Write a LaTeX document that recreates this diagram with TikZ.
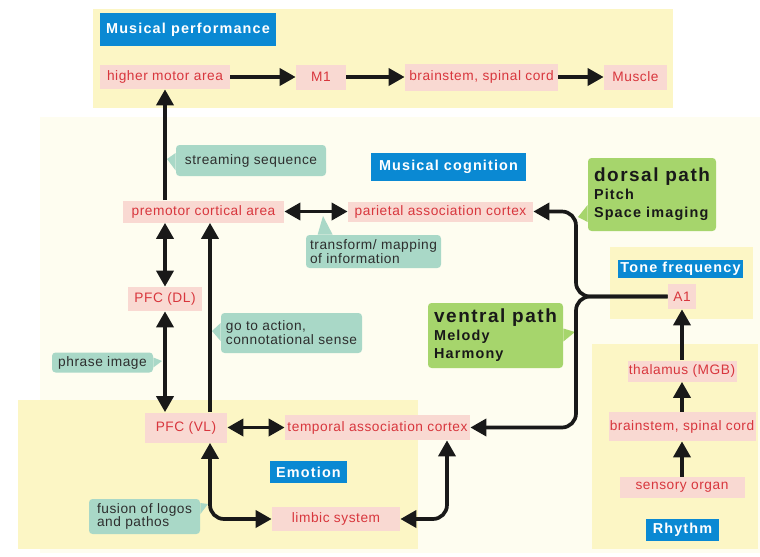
\documentclass[tikz,border=0pt]{standalone}
\usepackage{fontspec}
\setmainfont{Liberation Sans}
\newfontfamily\lblfont[LetterSpace=4]{Liberation Sans}
\newfontfamily\ttlfont[LetterSpace=8]{Liberation Sans}
\usetikzlibrary{arrows.meta}
\definecolor{bgyellow}{HTML}{FCF6C5}
\definecolor{bgpale}{HTML}{FEFDF0}
\definecolor{areapink}{HTML}{F9D9D2}
\definecolor{areared}{HTML}{D8363D}
\definecolor{ttlblue}{HTML}{0A89D3}
\definecolor{notegreen}{HTML}{A9D8C7}
\definecolor{pathgreen}{HTML}{A6D56C}
\definecolor{notetext}{HTML}{2E2E2E}
\tikzset{
  area/.style={fill=areapink, text=areared, inner sep=0pt, font=\lblfont\fontsize{7.8}{9}\selectfont},
  ttl/.style={fill=ttlblue, text=white, inner sep=0pt, font=\ttlfont\bfseries\fontsize{8.2}{9}\selectfont},
  note/.style={fill=notegreen, text=notetext, rounded corners=2pt, inner sep=0pt, align=left,
    font=\lblfont\fontsize{7.8}{7.9}\selectfont},
  pathnote/.style={fill=pathgreen, text=black!90, rounded corners=2pt, inner sep=0pt, align=left,
    font=\ttlfont\bfseries\fontsize{8.2}{10.2}\selectfont},
  arr/.style={draw=black!90, line width=2.1pt, -{Triangle[length=0.32cm, width=0.34cm]}},
  darr/.style={arr, {Triangle[length=0.32cm, width=0.34cm]}-{Triangle[length=0.32cm, width=0.34cm]}}
}
\begin{document}
\begin{tikzpicture}[scale=1.0]
\useasboundingbox (0,0) rectangle (15.2,-11.14);
\fill[bgpale] (0.8,-2.34) rectangle (15.2,-11.06);
\fill[bgyellow] (1.86,-0.18) rectangle (13.46,-2.16);
\fill[bgyellow] (0.36,-8.0) rectangle (8.36,-10.98);
\fill[bgyellow] (12.2,-4.94) rectangle (15.06,-6.38);
\fill[bgyellow] (11.84,-6.88) rectangle (15.16,-10.98);

\node[ttl, minimum width=3.52cm, minimum height=0.66cm] (perf) at (3.76,-0.59) {Musical performance};
\node[ttl, minimum width=3.1cm, minimum height=0.56cm] (cog) at (8.97,-3.34) {Musical cognition};
\node[ttl, minimum width=2.5cm, minimum height=0.36cm] (tone) at (13.61,-5.37) {Tone frequency};
\node[ttl, minimum width=1.54cm, minimum height=0.44cm] (emo) at (6.17,-9.44) {Emotion};
\node[ttl, minimum width=1.46cm, minimum height=0.44cm] (rhythm) at (13.65,-10.6) {Rhythm};

\node[area, minimum width=2.6cm, minimum height=0.48cm] (hma) at (3.3,-1.54) {higher motor area};
\node[area, minimum width=1.0cm, minimum height=0.5cm] (m1) at (6.42,-1.54) {M1};
\node[area, minimum width=3.06cm, minimum height=0.54cm] (bsc1) at (9.63,-1.54) {brainstem, spinal cord};
\node[area, minimum width=1.26cm, minimum height=0.5cm] (muscle) at (12.71,-1.54) {Muscle};
\node[area, minimum width=3.22cm, minimum height=0.44cm] (premotor) at (4.07,-4.23) {premotor cortical area};
\node[area, minimum width=3.7cm, minimum height=0.4cm] (parietal) at (8.81,-4.23) {parietal association cortex};
\node[area, minimum width=1.48cm, minimum height=0.48cm] (pfcdl) at (3.3,-5.98) {PFC (DL)};
\node[area, minimum width=1.64cm, minimum height=0.6cm] (pfcvl) at (3.72,-8.55) {PFC (VL)};
\node[area, minimum width=3.7cm, minimum height=0.5cm] (temporal) at (7.55,-8.55) {temporal association cortex};
\node[area, minimum width=2.56cm, minimum height=0.48cm] (limbic) at (6.72,-10.38) {limbic system};
\node[area, minimum width=0.56cm, minimum height=0.5cm] (a1) at (13.64,-5.93) {A1};
\node[area, minimum width=2.18cm, minimum height=0.42cm] (thal) at (13.64,-7.42) {thalamus (MGB)};
\node[area, minimum width=2.94cm, minimum height=0.58cm] (bsc2) at (13.64,-8.53) {brainstem, spinal cord};
\node[area, minimum width=2.5cm, minimum height=0.42cm] (sensory) at (13.64,-9.75) {sensory organ};

\node[note, minimum width=3.0cm, minimum height=0.62cm] (stream) at (5.02,-3.21) {streaming sequence};
\node[note, minimum width=2.7cm, minimum height=0.66cm] (transform) at (7.47,-5.03) {transform/ mapping\\of information};
\node[note, minimum width=2.82cm, minimum height=0.8cm] (goto) at (5.83,-6.66) {go to action,\\connotational sense};
\node[note, minimum width=2.02cm, minimum height=0.4cm] (phrase) at (2.05,-7.25) {phrase image};
\node[note, minimum width=2.22cm, minimum height=0.7cm] (fusion) at (2.89,-10.33) {fusion of logos\\and pathos};
\node[pathnote, minimum width=2.56cm, minimum height=1.46cm] (dorsal) at (13.04,-3.89)
  {{\fontsize{10.8}{12}\selectfont dorsal path}\\Pitch\\Space imaging};
\node[pathnote, minimum width=2.7cm, minimum height=1.3cm] (ventral) at (9.91,-6.71)
  {{\fontsize{10.8}{12}\selectfont ventral path}\\Melody\\Harmony};

\fill[notegreen] ([yshift=0.15cm]stream.west) -- (3.34,-3.18) -- ([yshift=-0.2cm]stream.west) -- cycle;
\fill[notegreen] ([xshift=0.24cm]transform.north west) -- (6.46,-4.32) -- ([xshift=0.54cm]transform.north west) -- cycle;
\fill[notegreen] ([yshift=0.2cm]goto.west) -- (4.24,-6.62) -- ([yshift=-0.16cm]goto.west) -- cycle;
\fill[notegreen] ([yshift=0.1cm]phrase.east) -- (3.24,-7.22) -- ([yshift=-0.1cm]phrase.east) -- cycle;
\fill[notegreen] ([yshift=0.27cm]fusion.east) -- (4.16,-10.08) -- ([yshift=0.05cm]fusion.east) -- cycle;
\fill[pathgreen] ([yshift=-0.21cm]dorsal.west) -- (11.56,-4.34) -- ([yshift=-0.55cm]dorsal.west) -- cycle;
\fill[pathgreen] ([yshift=0.14cm]ventral.east) -- (11.5,-6.64) -- ([yshift=-0.12cm]ventral.east) -- cycle;

\coordinate (fork) at (11.52,-5.93);

\draw[arr] (hma) -- (m1);
\draw[arr] (m1) -- (bsc1);
\draw[arr] (bsc1) -- (muscle);
\draw[arr] (hma.south |- premotor.north) -- (hma.south);
\draw[darr] (premotor) -- (parietal);
\draw[darr] (pfcdl.north |- premotor.south) -- (pfcdl.north);
\draw[darr] (pfcdl.south) -- (pfcdl.south |- pfcvl.north);
\draw[arr] ([xshift=0.48cm]pfcvl.north) -- ([xshift=0.48cm]pfcvl.north |- premotor.south);
\draw[darr] (pfcvl) -- (temporal);
\draw[darr, rounded corners=8pt] ([xshift=0.48cm]pfcvl.south) |- (limbic.west);
\draw[darr, rounded corners=8pt] ([xshift=1.39cm]temporal.south) |- (limbic.east);
\draw[arr, rounded corners=8pt] (a1.west) -- (fork) |- (parietal.east);
\draw[arr, rounded corners=8pt] (a1.west) -- (fork) |- (temporal.east);
\draw[arr] (thal) -- (a1);
\draw[arr] (bsc2) -- (thal);
\draw[arr] (sensory) -- (bsc2);
\end{tikzpicture}
\end{document}
